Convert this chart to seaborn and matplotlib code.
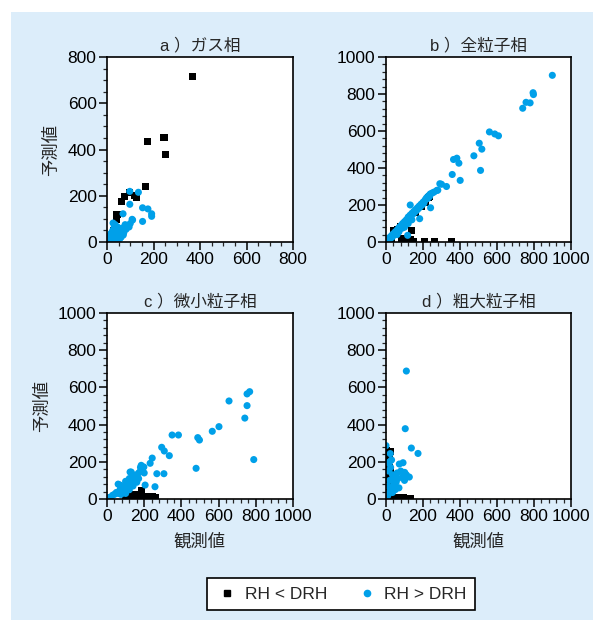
import numpy as np
import pandas as pd
import matplotlib
matplotlib.use('Agg')
import matplotlib.pyplot as plt
import seaborn as sns
from matplotlib.patches import Rectangle
from matplotlib.lines import Line2D
from matplotlib.ticker import MultipleLocator

# ---- data (観測値 x, 予測値 y) ----
titles = ['a ）ガス相', 'b ）全粒子相', 'c ）微小粒子相', 'd ）粗大粒子相']
limits = [800, 1000, 1000, 1000]
labels = ['RH < DRH', 'RH > DRH']

# a) gas phase
a_low_x = [367, 173, 245, 251, 164, 63, 76, 95, 127, 118, 43, 40, 20, 30, 10]
a_low_y = [715, 434, 451, 378, 241, 174, 195, 213, 192, 200, 118, 98, 30, 50, 15]
a_high_x = [98, 135, 98, 69, 153, 176, 192, 192, 153, 108, 95, 5, 8, 10, 12, 15, 18, 20, 22, 25,
            28, 30, 32, 35, 38, 40, 42, 45, 48, 50, 52, 55, 58, 60, 62, 65, 68, 72, 75, 78,
            82, 85, 30, 25, 20, 15, 10, 5, 3, 12, 25, 40, 55, 100, 110, 26, 35, 45, 60, 70]
a_high_y = [219, 215, 163, 122, 148, 143, 122, 111, 89, 98, 65, 5, 12, 8, 20, 10, 25, 15, 30, 20,
            35, 25, 15, 40, 30, 20, 45, 35, 25, 50, 40, 30, 55, 45, 35, 60, 50, 40, 62, 75,
            55, 70, 60, 50, 40, 35, 25, 15, 3, 3, 5, 10, 15, 80, 95, 82, 75, 65, 20, 30]

# b) total particle phase
b_low_x = [209, 263, 354, 131, 135, 120, 100, 86, 41, 140, 230, 235, 215, 60, 80, 150, 20, 30,
           110, 125, 145, 160, 190]
b_low_y = [5, 5, 5, 13, 5, 8, 10, 18, 63, 63, 240, 245, 215, 70, 85, 3, 10, 20,
           3, 2, 4, 160, 190]
b_high_x = [899, 739, 757, 779, 795, 797, 559, 588, 608, 504, 518, 475, 511, 365, 383, 394, 401,
            358, 291, 327, 275, 239, 241, 182, 131, 117,
            5, 10, 15, 20, 25, 30, 35, 40, 45, 50, 55, 60, 65, 70, 75, 80, 85, 90, 95, 100,
            105, 110, 115, 120, 125, 130, 135, 140, 145, 150, 155, 160, 165, 170, 175, 180,
            185, 190, 195, 200, 205, 210, 215, 220, 225, 230, 235, 240, 250, 260, 280, 300,
            100, 120, 140, 88, 60, 70]
b_high_y = [901, 723, 755, 752, 807, 797, 595, 584, 574, 534, 502, 466, 387, 446, 453, 426, 333,
            365, 315, 300, 279, 257, 185, 126, 200, 36,
            5, 12, 10, 25, 20, 35, 28, 45, 40, 55, 48, 65, 58, 78, 70, 88, 80, 100, 92, 110,
            100, 120, 112, 135, 125, 145, 140, 155, 150, 165, 160, 175, 170, 185, 180, 195,
            190, 205, 200, 215, 210, 225, 232, 240, 235, 250, 245, 260, 265, 270, 280, 312,
            80, 100, 120, 75, 40, 55]

# c) fine particle phase
c_low_x = [184, 100, 106, 112, 118, 124, 130, 136, 142, 148, 154, 160, 166, 172, 178, 184,
           190, 196, 202, 208, 214, 220, 226, 232, 238, 244, 250, 256, 260,
           105, 115, 125, 135, 145, 155, 165, 175, 185, 195, 205, 215, 225, 235, 245, 255,
           150, 170]
c_low_y = [45, 0, 4, 0, 6, 2, 0, 5, 3, 0, 6, 2, 0, 5, 3, 0, 6, 2, 0, 5, 3, 0, 6, 2, 0, 5, 3, 0, 6,
           10, 12, 9, 11, 13, 10, 12, 9, 11, 13, 10, 12, 9, 11, 13, 10,
           25, 18]
c_high_x = [789, 767, 753, 753, 741, 656, 602, 566, 488, 497, 479, 384, 350, 335, 308, 294,
            306, 268, 258, 205, 243, 232, 198, 184, 124,
            5, 10, 20, 30, 40, 50, 60, 70, 80, 90, 100, 110, 120, 130, 140, 150, 160, 170,
            180, 190, 60, 70, 80, 100, 120, 130, 140, 150, 160, 110, 90, 75, 100, 120, 140,
            170, 200, 180]
c_high_y = [212, 577, 565, 502, 435, 527, 389, 364, 330, 317, 165, 344, 344, 233, 258, 278,
            136, 136, 66, 75, 220, 192, 172, 181, 145,
            3, 8, 10, 20, 25, 35, 30, 50, 45, 60, 70, 80, 90, 100, 110, 120, 130, 140,
            150, 160, 80, 75, 70, 95, 110, 145, 130, 100, 90, 60, 40, 25, 30, 50, 70,
            110, 140, 170]

# d) coarse particle phase
d_low_x = [5, 10, 15, 20, 8, 12, 5, 10, 15, 5, 10, 15, 5, 20, 25, 2, 18, 25, 22, 28,
           3, 8, 14, 20, 26, 4, 12, 18, 24, 30,
           20, 27, 34, 41, 48, 55, 62, 69, 76, 83, 90, 97, 104, 111, 118, 125, 130]
d_low_y = [260, 250, 240, 230, 200, 180, 160, 140, 120, 100, 80, 60, 40, 20, 120, 220, 160,
           255, 90, 40,
           210, 225, 190, 170, 150, 130, 110, 70, 50, 30,
           3, 0, 5, 2, 0, 6, 3, 0, 5, 2, 0, 6, 3, 0, 5, 2, 0]
d_high_x = [110, 104, 137, 173, 0, 23, 14, 20, 30, 92, 72, 101, 126, 80, 60, 50, 40, 35,
            45, 30, 25, 20, 15, 10, 5, 2, 55, 65, 90, 100, 110, 70, 50, 35, 20, 10, 15, 25]
d_high_y = [688, 378, 274, 245, 287, 244, 194, 200, 210, 195, 188, 143, 118, 150, 140, 120,
            100, 130, 80, 60, 50, 40, 30, 20, 10, 5, 90, 110, 120, 100, 130, 60, 50, 35,
            100, 70, 150, 170]

panels = [
    (a_low_x, a_low_y, a_high_x, a_high_y),
    (b_low_x, b_low_y, b_high_x, b_high_y),
    (c_low_x, c_low_y, c_high_x, c_high_y),
    (d_low_x, d_low_y, d_high_x, d_high_y),
]

BG = '#DCEDFA'
CYAN = '#00A0E9'
FS = 12.5

sns.set_style('ticks')
plt.rcParams['font.family'] = ['Liberation Sans', 'Noto Sans CJK JP', 'DejaVu Sans']

fig = plt.figure(figsize=(5.93, 6.2), dpi=100)
fig.patch.set_facecolor('white')
fig.patches.append(Rectangle((11 / 593, 0), 1 - 11 / 593, 1 - 12 / 620,
                             transform=fig.transFigure, facecolor=BG, edgecolor='none', zorder=-10))

# axes boxes in pixels: left, top, right, bottom
boxes = [(107, 57, 293, 242), (386, 57, 571, 242), (107, 313, 293, 499), (386, 313, 571, 499)]

for i, (lx, ly, hx, hy) in enumerate(panels):
    l, t, r, b = boxes[i]
    ax = fig.add_axes([l / 593, 1 - b / 620, (r - l) / 593, (b - t) / 620])
    df = pd.DataFrame({
        'obs': list(lx) + list(hx),
        'pred': list(ly) + list(hy),
        'cond': [labels[0]] * len(lx) + [labels[1]] * len(hx),
    })
    sns.scatterplot(data=df, x='obs', y='pred', hue='cond', style='cond',
                    palette={labels[0]: 'black', labels[1]: CYAN},
                    markers={labels[0]: 's', labels[1]: 'o'},
                    s=26, linewidth=0, legend=False, ax=ax)
    lim = limits[i]
    ax.set_xlim(0, lim)
    ax.set_ylim(0, lim)
    ax.xaxis.set_major_locator(MultipleLocator(200))
    ax.yaxis.set_major_locator(MultipleLocator(200))
    minor = 50 if lim == 800 else 40
    ax.xaxis.set_minor_locator(MultipleLocator(minor))
    ax.yaxis.set_minor_locator(MultipleLocator(minor))
    ax.tick_params(which='major', length=5.5, width=1.1, labelsize=FS, pad=2, colors='black')
    ax.tick_params(which='minor', length=3, width=0.9)
    for sp in ax.spines.values():
        sp.set_linewidth(1.2)
        sp.set_color('black')
    ax.set_facecolor('white')
    ax.set_title(titles[i], fontsize=12, pad=5)
    ax.set_xlabel('観測値' if i >= 2 else '', fontsize=12.5, labelpad=6)
    ax.set_ylabel('予測値' if i % 2 == 0 else '', fontsize=12.5, labelpad=6)

handles = [
    Line2D([], [], marker='s', color='black', linestyle='none', markersize=4.5),
    Line2D([], [], marker='o', color=CYAN, linestyle='none', markersize=4.5),
]
leg = fig.legend(handles, labels, loc='center', bbox_to_anchor=(341 / 593, 1 - 594 / 620),
                 ncol=2, frameon=True, fancybox=False, fontsize=FS,
                 handletextpad=0.3, columnspacing=1.6, borderpad=0.5, handlelength=1.4)
leg.get_frame().set_edgecolor('black')
leg.get_frame().set_linewidth(1.2)
leg.get_frame().set_facecolor('white')
leg.get_frame().set_alpha(1)

fig.savefig('out.png', dpi=100, facecolor=fig.get_facecolor())
